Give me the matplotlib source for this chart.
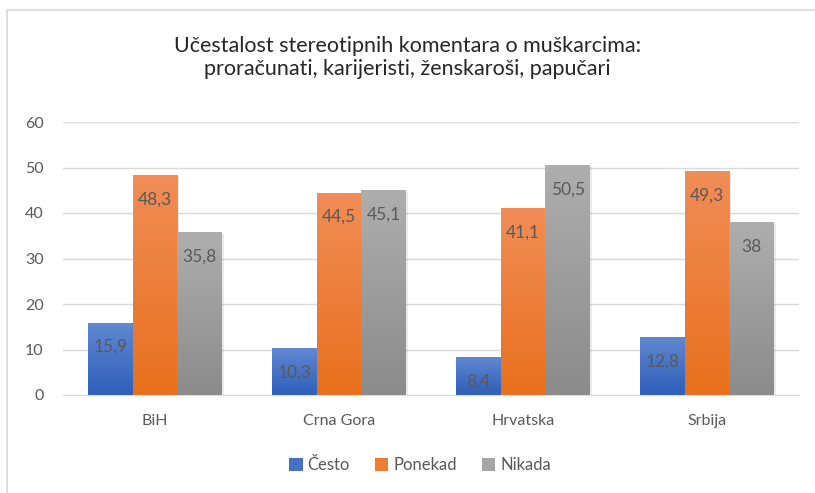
import numpy as np
import matplotlib
matplotlib.use("Agg")
import matplotlib.pyplot as plt
from matplotlib.colors import LinearSegmentedColormap
from matplotlib.patches import Rectangle, Patch

plt.rcParams['font.family'] = ['Lato', 'DejaVu Sans']

categories = ["BiH", "Crna Gora", "Hrvatska", "Srbija"]
series_names = ["Često", "Ponekad", "Nikada"]
cesto = [15.9, 10.3, 8.4, 12.8]
ponekad = [48.3, 44.5, 41.1, 49.3]
nikada = [35.8, 45.1, 50.5, 38]
labels = [["15,9", "10,3", "8,4", "12,8"],
          ["48,3", "44,5", "41,1", "49,3"],
          ["35,8", "45,1", "50,5", "38"]]

# (top colour, bottom colour) per series
grads = [("#6189D2", "#2F5EB9"), ("#F18D57", "#E8701C"), ("#AEAEAE", "#8B8B8B")]
legend_cols = ["#4472C4", "#ED7D31", "#A5A5A5"]
text_col = "#595959"

fig = plt.figure(figsize=(8.15, 4.93), dpi=100)
fig.patches.append(Rectangle((7/815, -0.1), 1.2, 1 - 10/493 + 0.1, transform=fig.transFigure,
                             fill=False, edgecolor="#D9D9D9", linewidth=1.2))
ax = fig.add_axes([63/815, 1 - 395/493, 736/815, 273/493])

x = np.arange(len(categories))
w = 0.243
values = [cesto, ponekad, nikada]
for s, vals in enumerate(values):
    cmap = LinearSegmentedColormap.from_list("g%d" % s, [grads[s][1], grads[s][0]])
    grad = np.linspace(0, 1, 256).reshape(-1, 1)
    for i, v in enumerate(vals):
        xc = x[i] + (s - 1) * w
        # faint shadow
        ax.bar(xc + 0.008, v, w, bottom=-0.4, color="#000000", alpha=0.08, zorder=1.5)
        bars = ax.bar(xc, v, w, color="none", edgecolor="none", zorder=2)
        im = ax.imshow(grad, aspect="auto", cmap=cmap, origin="lower",
                       extent=[xc - w/2, xc + w/2, 0, v], zorder=2)
        im.set_clip_path(bars[0])
        ax.annotate(labels[s][i], (xc, v), xytext=(0, -17.6), textcoords="offset points",
                    ha="center", va="center", fontsize=12.5, color=text_col, zorder=3)

ax.set_xlim(-0.5, 3.5)
ax.set_ylim(0, 60)
ax.set_yticks(range(0, 61, 10))
ax.set_xticks(x)
ax.set_xticklabels(categories)
ax.grid(axis="y", color="#D9D9D9", linewidth=1)
ax.set_axisbelow(True)
for sp in ["top", "right", "left"]:
    ax.spines[sp].set_visible(False)
ax.spines["bottom"].set_color("#D9D9D9")
ax.tick_params(axis="both", length=0, labelsize=11.5, colors=text_col)
ax.tick_params(axis="x", pad=14)
ax.tick_params(axis="y", pad=14)

fig.text(0.5, 1 - 57.5/493, "Učestalost stereotipnih komentara o muškarcima:\nproračunati, karijeristi, ženskaroši, papučari",
         ha="center", va="center", fontsize=15.5, color="#262626", linespacing=1.15)

handles = [Patch(facecolor=c) for c in legend_cols]
fig.legend(handles, series_names, loc="center", bbox_to_anchor=(420/815, 1 - 465/493), ncol=3,
           frameon=False, fontsize=12, handlelength=0.8, handleheight=0.8, handletextpad=0.3,
           columnspacing=1.5, labelcolor=text_col)

fig.savefig("out.png", dpi=100)
